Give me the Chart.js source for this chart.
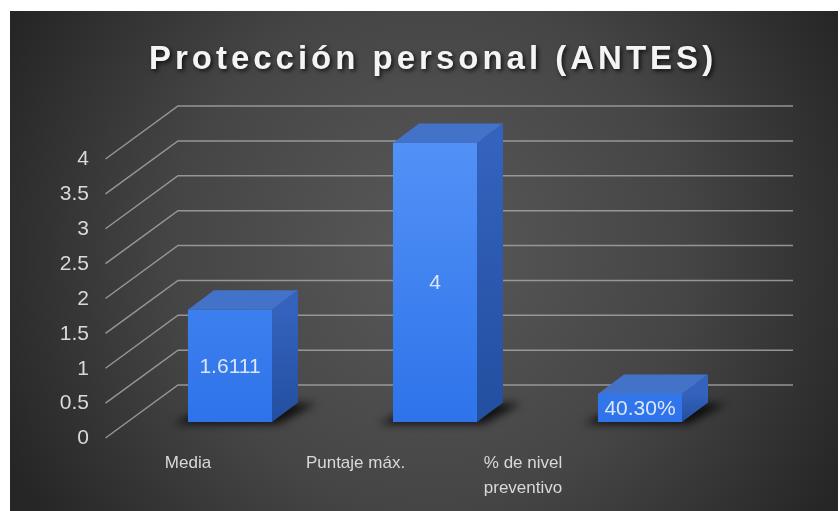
<!DOCTYPE html>
<html>
<head>
<meta charset="utf-8">
<script src="https://cdn.jsdelivr.net/npm/chart.js@4.4.1/dist/chart.umd.min.js"></script>
<style>
  html, body { margin: 0; padding: 0; background: #fff; }
  canvas { display: block; }
</style>
</head>
<body>
<canvas id="chart" width="840" height="511"></canvas>
<script>
const chartTitle = 'Protección personal (ANTES)';
const categories = ['Media', 'Puntaje máx.', '% de nivel preventivo'];
const tickLabels = ['Media', 'Puntaje máx.', ['% de nivel', 'preventivo']];
const values = [1.6111, 4, 0.403];
const valueLabels = ['1.6111', '4', '40.30%'];

Chart.defaults.font.family = "'Liberation Sans', Arial, sans-serif";

// oblique offsets of the 3D box, relative to the plane of the bar fronts
const BACK = { dx: 50.5, dy: -37 };
const FRONT = { dx: -22, dy: 16 };
const DEPTH = { dx: 26, dy: -19.5 };

const scene = {
  id: 'scene',
  beforeDraw(chart) {
    const { ctx, width, height } = chart;
    ctx.save();
    ctx.fillStyle = '#fff';
    ctx.fillRect(0, 0, width, height);
    const g = ctx.createRadialGradient(430, 250, 0, 430, 250, 470);
    g.addColorStop(0, '#595959');
    g.addColorStop(0.55, '#454545');
    g.addColorStop(1, '#262626');
    ctx.fillStyle = g;
    ctx.fillRect(10, 11, 828, 500);
    ctx.restore();
  },
  beforeDatasetsDraw(chart) {
    const { ctx, chartArea: a, scales: { y } } = chart;
    ctx.save();
    ctx.strokeStyle = 'rgba(165,165,165,0.85)';
    ctx.lineWidth = 1.5;
    ctx.beginPath();
    y.ticks.forEach(t => {
      const py = y.getPixelForValue(t.value);
      ctx.moveTo(a.left + FRONT.dx, py + FRONT.dy);
      ctx.lineTo(a.left + BACK.dx, py + BACK.dy);
      ctx.lineTo(a.right + BACK.dx, py + BACK.dy);
    });
    ctx.stroke();

    // floor shadows of the bars
    ctx.filter = 'blur(4px)';
    ctx.fillStyle = 'rgba(0,0,0,0.8)';
    chart.getDatasetMeta(0).data.forEach(bar => {
      const l = bar.x - bar.width / 2, r = bar.x + bar.width / 2, b = bar.base;
      ctx.beginPath();
      ctx.moveTo(l - 14, b + 2);
      ctx.lineTo(r + 6, b + 2);
      ctx.lineTo(r + DEPTH.dx + 18, b + DEPTH.dy + 1);
      ctx.lineTo(l + DEPTH.dx, b + DEPTH.dy + 1);
      ctx.closePath();
      ctx.fill();
    });
    ctx.restore();
  },
  afterDatasetsDraw(chart) {
    const { ctx } = chart;
    ctx.save();
    chart.getDatasetMeta(0).data.forEach((bar, i) => {
      const l = bar.x - bar.width / 2, r = bar.x + bar.width / 2, t = bar.y, b = bar.base;
      // top face
      ctx.fillStyle = '#4372c9';
      ctx.beginPath();
      ctx.moveTo(l, t);
      ctx.lineTo(l + DEPTH.dx, t + DEPTH.dy);
      ctx.lineTo(r + DEPTH.dx, t + DEPTH.dy);
      ctx.lineTo(r, t);
      ctx.closePath();
      ctx.fill();
      // side face
      const sg = ctx.createLinearGradient(0, t, 0, b);
      sg.addColorStop(0, '#3462bd');
      sg.addColorStop(1, '#234f9f');
      ctx.fillStyle = sg;
      ctx.beginPath();
      ctx.moveTo(r, t);
      ctx.lineTo(r + DEPTH.dx, t + DEPTH.dy);
      ctx.lineTo(r + DEPTH.dx, b + DEPTH.dy);
      ctx.lineTo(r, b);
      ctx.closePath();
      ctx.fill();
      // value label
      ctx.fillStyle = '#dbe6f8';
      ctx.font = "21px 'Liberation Sans', Arial, sans-serif";
      ctx.textAlign = 'center';
      ctx.textBaseline = 'middle';
      ctx.fillText(valueLabels[i], bar.x, (t + b) / 2 + 1);
    });
    ctx.restore();
  },
  afterDraw(chart) {
    const { ctx } = chart;
    ctx.save();
    ctx.font = "bold 33px 'Liberation Sans', Arial, sans-serif";
    ctx.letterSpacing = '4px';
    ctx.textAlign = 'center';
    ctx.textBaseline = 'alphabetic';
    ctx.shadowColor = 'rgba(0,0,0,0.75)';
    ctx.shadowBlur = 4;
    ctx.shadowOffsetX = 2;
    ctx.shadowOffsetY = 2;
    ctx.fillStyle = '#f4f4f4';
    ctx.fillText(chartTitle, 433, 69);
    ctx.restore();
  }
};

const frontColor = (context) => {
  const a = context.chart.chartArea;
  if (!a) return '#3b80f0';
  const g = context.chart.ctx.createLinearGradient(0, a.top, 0, a.bottom);
  g.addColorStop(0, '#5291f6');
  g.addColorStop(1, '#2e73ea');
  return g;
};

new Chart(document.getElementById('chart'), {
  type: 'bar',
  data: {
    labels: categories,
    datasets: [{
      data: values,
      backgroundColor: frontColor,
      borderWidth: 0,
      barPercentage: 0.41,
      categoryPercentage: 1
    }]
  },
  options: {
    responsive: false,
    animation: false,
    layout: { padding: { top: 143, right: 97.5, left: 0, bottom: 0 } },
    plugins: {
      legend: { display: false },
      tooltip: { enabled: false },
      title: { display: false }
    },
    scales: {
      x: { display: false },
      // category labels sit on the front plane, which is narrower than the bar plane
      xl: {
        type: 'linear',
        position: 'bottom',
        offset: false,
        min: -0.3612,
        max: 3.3104,
        afterBuildTicks: (axis) => { axis.ticks = tickLabels.map((_, i) => ({ value: i })); },
        afterFit: (axis) => { axis.height = 89; },
        grid: { display: false, drawTicks: false },
        border: { display: false },
        ticks: {
          autoSkip: false,
          maxRotation: 0,
          padding: 29,
          color: '#d9d9d9',
          font: { size: 17, lineHeight: 1.45 },
          callback: (v) => tickLabels[v]
        }
      },
      y: {
        min: 0,
        max: 4,
        afterFit: (axis) => { axis.width = 127.5; },
        grid: { display: false, drawTicks: false },
        border: { display: false },
        ticks: {
          stepSize: 0.5,
          padding: 38.5,
          labelOffset: 16.5,
          color: '#d9d9d9',
          font: { size: 21 },
          callback: (v) => String(v)
        }
      }
    }
  },
  plugins: [scene]
});
</script>
</body>
</html>
